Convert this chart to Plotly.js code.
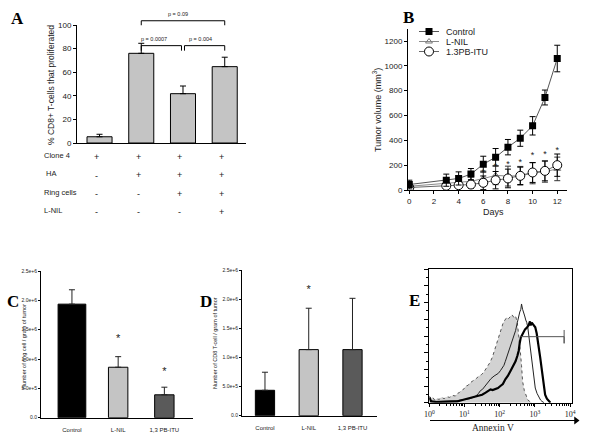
<!DOCTYPE html>
<html><head><meta charset="utf-8">
<script src="https://cdn.plot.ly/plotly-3.0.1.min.js"></script>
<style>html,body{margin:0;padding:0;background:#fff}#chart{width:600px;height:433px}</style>
</head><body><div id="chart"></div>
<script>
// ---------------- Panel A data ----------------
const aGroups = [0, 1, 2, 3];
const aValues = [5.3, 76, 41.8, 64.7];
const aErrors = [2.1, 8.5, 6.5, 8];
const aYTicks = [0, 20, 40, 60, 80, 100];
const aRowLabels = ['Clone 4', 'HA', 'Ring cells', 'L-NIL'];
const aRowSigns = [['+', '+', '+', '+'], ['-', '+', '+', '+'], ['-', '-', '+', '+'], ['-', '-', '-', '+']];
const aCompFrom = [1, 1, 2];
const aCompTo = [3, 2, 3];
const aCompLevel = [103.6, 82.5, 82.5];
const aCompText = ['p = 0.09', 'p = 0.0007', 'p = 0.004'];
const aYTitle = '% CD8+ T-cells that proliferated';

// ---------------- Panel B data ----------------
const bDays = [0, 3, 4, 5, 6, 7, 8, 9, 10, 11, 12];
const bControl = [44, 79, 93, 128, 208, 264, 345, 417, 517, 745, 1059];
const bControlErr = [35, 49, 53, 45, 64, 70, 62, 65, 74, 60, 107];
const bLnil = [30, 55, 62, 70, 92, 118, 112, 115, 135, 148, 170];
const bLnilErr = [15, 25, 30, 35, 60, 75, 80, 75, 85, 85, 95];
const bPb = [20, 34, 39, 44, 58, 79, 93, 114, 141, 154, 200];
const bPbErr = [10, 20, 20, 30, 55, 70, 75, 70, 80, 80, 90];
const bStarDays = [6, 7, 8, 9, 10, 11, 12];
const bStarLevels = [140, 185, 205, 222, 274, 285, 316];
const bSeriesNames = ['Control', 'L-NIL', '1.3PB-ITU'];
const bXTicks = [0, 2, 4, 6, 8, 10, 12];
const bYTicks = [0, 200, 400, 600, 800, 1000, 1200];

// ---------------- Panel C / D data ----------------
const cdGroups = ['Control', 'L-NIL', '1,3 PB-ITU'];
const cValues = [1.935e6, 0.86e6, 0.39e6];
const cErrors = [0.245e6, 0.18e6, 0.13e6];
const cStarGroups = [1, 2];
const cStarLevels = [1.34e6, 0.78e6];
const dValues = [0.436e6, 1.134e6, 1.134e6];
const dErrors = [0.31e6, 0.71e6, 0.88e6];
const dStarGroups = [1];
const dStarLevels = [2.15e6];
const cdYTicks = [0, 5e5, 1e6, 1.5e6, 2e6, 2.5e6];
const cdYTickText = ['0.0', '5.0e+5', '1.0e+6', '1.5e+6', '2.0e+6', '2.5e+6'];
const cdColors = ['#000000', '#c4c4c4', '#5a5a5a'];

// ---------------- Panel E data (x in log10 units, y in % of max) ----------------
const eGreyLog = [0.00,0.05,0.10,0.15,0.20,0.28,0.35,0.42,0.50,0.58,0.66,0.74,0.80,0.85,0.90,0.95,1.00,1.04,1.10,1.16,1.22,1.28,1.35,1.41,1.48,1.55,1.60,1.66,1.72,1.79,1.85,1.90,1.95,2.00,2.05,2.10,2.15,2.20,2.25,2.30,2.35,2.40,2.45,2.50,2.54,2.58,2.62,2.65,2.70,2.75,2.80,2.85,2.92];
const eGreyVal = [5,3,4,2,3,2.5,4,3,4.5,4,5.5,5,7,7.5,9,9.5,11,12.5,13,15,16,17,18.5,20,21,23,25,27,30,34,39,43,47,52,55,60,62,64,63,65,66,64,65,60,52,40,28,16,9,5,2,1,0];
const eThinLog = [0.00,0.10,0.30,0.50,0.66,0.80,0.90,1.04,1.15,1.25,1.32,1.40,1.45,1.51,1.57,1.63,1.69,1.75,1.84,1.90,1.96,2.02,2.08,2.12,2.16,2.21,2.26,2.30,2.35,2.40,2.45,2.50,2.54,2.57,2.60,2.62,2.65,2.68,2.71,2.74,2.77,2.80,2.84,2.87,2.90,2.94,2.97,3.01,3.06,3.11,3.16,3.20,3.26];
const eThinVal = [3,1,1,1,1.5,1.5,2,2.5,3,4,5,7,9,10,12,14,16,18,20,21,22,24,26,28,31,35,39,42,46,50,54,60,66,68,70,74,70,68,65,62,60,56,47,39,31,24,17,11,7,4,2,1,0];
const eThickLog = [0.00,0.05,0.20,0.40,0.66,0.80,0.94,1.08,1.22,1.30,1.41,1.50,1.60,1.67,1.74,1.80,1.88,1.95,2.02,2.09,2.16,2.23,2.31,2.38,2.45,2.50,2.54,2.57,2.60,2.64,2.68,2.72,2.78,2.82,2.86,2.88,2.91,2.94,2.98,3.01,3.05,3.09,3.12,3.15,3.19,3.22,3.26,3.29,3.34,3.39,3.44];
const eThickVal = [4,1,0.5,0.5,0.5,1,2,3,4,4.5,5,6,7.5,9,10,9.5,10,11,12.5,14,17.5,20,24,27,31,35,39,45,49,51,53,55,56.5,58,61,58,60,59,58,56.5,52,46,40,34,26,19,12,6,3,1,0];
const eGateLog = [2.58, 3.83];
const eGateLevel = 49.5;
const eGateCap = [44.5, 54.5];
const eXTickExp = [0, 1, 2, 3, 4];

// ---------------- layout helpers (pixel -> paper) ----------------
const W = 600, H = 433;
const px = v => v / W;
const py = v => 1 - v / H;
const SANS = 'Liberation Sans, Arial, sans-serif';
const SERIF = 'Liberation Serif, Times New Roman, serif';
const INK = '#222';

// panel A geometry
const A_LEFT = 77, A_RIGHT = 246, A_BOTTOM = 143, A_TOP = 25;
const A_XR = [-0.54, 3.51], A_YR = [0, 100];
const aPx = i => A_LEFT + (i - A_XR[0]) / (A_XR[1] - A_XR[0]) * (A_RIGHT - A_LEFT);
const aPy = v => A_BOTTOM - (v - A_YR[0]) / (A_YR[1] - A_YR[0]) * (A_BOTTOM - A_TOP);

const baseAxis = {showgrid: false, zeroline: false, showline: true, linecolor: '#000', linewidth: 1,
  ticks: 'outside', tickcolor: '#000', ticklen: 3, tickwidth: 1, fixedrange: true};

const traces = [];
// Panel A bars
traces.push({type: 'bar', x: aGroups, y: aValues, xaxis: 'x', yaxis: 'y', width: 0.6,
  marker: {color: '#c4c4c4', line: {color: '#000', width: 1}},
  error_y: {type: 'data', symmetric: false, array: aErrors, arrayminus: aValues.map(() => 0), color: '#000', thickness: 1, width: 3}});

// Panel A comparison brackets (pixel overlay)
{
  const xs = [], ys = [];
  for (let k = 0; k < aCompFrom.length; k++) {
    const lvl = aPy(aCompLevel[k]);
    let x0 = aPx(aCompFrom[k]), x1 = aPx(aCompTo[k]);
    if (k === 1) x1 -= 1.5;
    if (k === 2) x0 += 1.5;
    const drop = k === 0 ? 4.5 : 5;
    xs.push(x0, x0, x1, x1, null);
    ys.push(lvl + drop, lvl, lvl, lvl + drop, null);
  }
  traces.push({type: 'scatter', mode: 'lines', x: xs, y: ys, xaxis: 'x6', yaxis: 'y6',
    line: {color: '#000', width: 1}, hoverinfo: 'skip'});
}

// Panel B series
traces.push({type: 'scatter', mode: 'lines+markers', x: bDays, y: bLnil, xaxis: 'x2', yaxis: 'y2', name: bSeriesNames[1],
  line: {color: '#8a8a8a', width: 1}, marker: {symbol: 'triangle-up-open', size: 6, color: '#777', line: {width: 1}},
  error_y: {type: 'data', array: bLnilErr, color: '#333', thickness: 1, width: 3}});
traces.push({type: 'scatter', mode: 'lines+markers', x: bDays, y: bPb, xaxis: 'x2', yaxis: 'y2', name: bSeriesNames[2],
  line: {color: '#666', width: 1}, marker: {symbol: 'circle', size: 9, color: '#fff', line: {color: '#000', width: 1}},
  error_y: {type: 'data', array: bPbErr, color: '#000', thickness: 1, width: 3}});
traces.push({type: 'scatter', mode: 'lines+markers', x: bDays, y: bControl, xaxis: 'x2', yaxis: 'y2', name: bSeriesNames[0],
  line: {color: '#555', width: 1}, marker: {symbol: 'square', size: 7, color: '#000'},
  error_y: {type: 'data', array: bControlErr, color: '#000', thickness: 1, width: 3}});
traces.push({type: 'scatter', mode: 'text', x: bStarDays, y: bStarLevels, xaxis: 'x2', yaxis: 'y2', text: bStarDays.map(() => '*'),
  textfont: {size: 9, color: INK, family: SANS}, cliponaxis: false, hoverinfo: 'skip'});

// Panel B legend samples (pixel overlay)
const legRows = [31.5, 41.5, 51.5];
const legStyles = [
  {line: {color: '#555', width: 1}, marker: {symbol: 'square', size: 7, color: '#000'}},
  {line: {color: '#8a8a8a', width: 1}, marker: {symbol: 'triangle-up-open', size: 6, color: '#777'}},
  {line: {color: '#666', width: 1}, marker: {symbol: 'circle', size: 9, color: '#fff', line: {color: '#000', width: 1}}}
];
legRows.forEach((ry, k) => {
  traces.push({type: 'scatter', mode: 'lines', x: [419, 439], y: [ry, ry], xaxis: 'x6', yaxis: 'y6', line: legStyles[k].line, hoverinfo: 'skip'});
  traces.push({type: 'scatter', mode: 'markers', x: [429], y: [ry], xaxis: 'x6', yaxis: 'y6', marker: legStyles[k].marker, hoverinfo: 'skip'});
});

// Panel C bars
traces.push({type: 'bar', x: [0, 1, 2], y: cValues, xaxis: 'x3', yaxis: 'y3', width: [0.6, 0.42, 0.42],
  marker: {color: cdColors, line: {color: '#000', width: 1}},
  error_y: {type: 'data', symmetric: false, array: cErrors, arrayminus: cValues.map(() => 0), color: '#222', thickness: 1, width: 3}});
traces.push({type: 'scatter', mode: 'text', x: cStarGroups, y: cStarLevels, xaxis: 'x3', yaxis: 'y3', text: cStarGroups.map(() => '*'),
  textfont: {size: 11, color: INK, family: SANS}, cliponaxis: false, hoverinfo: 'skip'});

// Panel D bars
traces.push({type: 'bar', x: [0, 1, 2], y: dValues, xaxis: 'x4', yaxis: 'y4', width: 0.44,
  marker: {color: cdColors, line: {color: '#000', width: 1}},
  error_y: {type: 'data', symmetric: false, array: dErrors, arrayminus: dValues.map(() => 0), color: '#222', thickness: 1, width: 3}});
traces.push({type: 'scatter', mode: 'text', x: dStarGroups, y: dStarLevels, xaxis: 'x4', yaxis: 'y4', text: dStarGroups.map(() => '*'),
  textfont: {size: 11, color: INK, family: SANS}, cliponaxis: false, hoverinfo: 'skip'});

// Panel E histograms
const toLin = a => a.map(v => Math.pow(10, v));
traces.push({type: 'scatter', mode: 'lines', x: toLin(eGreyLog), y: eGreyVal, xaxis: 'x5', yaxis: 'y5', fill: 'tozeroy',
  fillcolor: '#d2d2d2', line: {color: '#555', width: 1, dash: 'dot'}, hoverinfo: 'skip'});
traces.push({type: 'scatter', mode: 'lines', x: toLin(eThinLog), y: eThinVal, xaxis: 'x5', yaxis: 'y5',
  line: {color: '#222', width: 1}, hoverinfo: 'skip'});
traces.push({type: 'scatter', mode: 'lines', x: toLin(eThickLog), y: eThickVal, xaxis: 'x5', yaxis: 'y5',
  line: {color: '#000', width: 2.2}, hoverinfo: 'skip'});
traces.push({type: 'scatter', mode: 'lines', x: toLin([eGateLog[0], eGateLog[1], eGateLog[1], eGateLog[1]]),
  y: [eGateLevel, eGateLevel, eGateCap[0], eGateCap[1]], xaxis: 'x5', yaxis: 'y5',
  line: {color: '#555', width: 1}, hoverinfo: 'skip'});
// Annexin V axis arrow (pixel overlay)
traces.push({type: 'scatter', mode: 'lines', x: [430, 576], y: [420.5, 420.5], xaxis: 'x6', yaxis: 'y6',
  line: {color: '#000', width: 1.2}, hoverinfo: 'skip'});
traces.push({type: 'scatter', mode: 'markers', x: [576], y: [420.5], xaxis: 'x6', yaxis: 'y6',
  marker: {symbol: 'triangle-right', size: 7, color: '#000'}, hoverinfo: 'skip'});

// ---------------- annotations ----------------
const ann = [];
const pixAnn = (x, y, text, opts) => Object.assign({xref: 'x6', yref: 'y6', x: x, y: y, text: text, showarrow: false,
  font: {family: SANS, size: 7, color: INK}}, opts || {});
// panel letters
[['A', 17, 18], ['B', 408, 17], ['C', 13, 301], ['D', 206, 301], ['E', 414, 300]].forEach(l =>
  ann.push(pixAnn(l[1], l[2], '<b>' + l[0] + '</b>', {font: {family: SERIF, size: 17, color: '#000'}})));
// A titles and table
ann.push(pixAnn(51, 85, aYTitle, {textangle: -90, font: {family: SANS, size: 8.5, color: INK}}));
const aRowY = [155, 173.5, 192, 210];
aRowLabels.forEach((lab, r) => {
  ann.push(pixAnn(r === 1 ? 44 : 42, aRowY[r], lab, {xanchor: 'left', font: {family: SANS, size: 7.5, color: INK}}));
  aRowSigns[r].forEach((s, i) => ann.push({xref: 'x', yref: 'y6', x: aGroups[i], y: aRowY[r] + (s === '-' ? 2 : 1.5), xshift: -3,
    text: s, showarrow: false, font: {family: SANS, size: 9, color: INK}}));
});
aCompText.forEach((t, k) => {
  const cx = (aPx(aCompFrom[k]) + aPx(aCompTo[k])) / 2 + (k === 1 ? -8 : (k === 2 ? -3 : -5));
  ann.push(pixAnn(cx, aPy(aCompLevel[k]) - 6.5, t, {font: {family: SANS, size: 5.5, color: INK}}));
});
// B titles and legend text
ann.push(pixAnn(377, 110, 'Tumor volume (mm<sup>3</sup>)', {textangle: -90, font: {family: SANS, size: 9, color: INK}}));
ann.push(pixAnn(493, 212, 'Days', {font: {family: SANS, size: 9, color: INK}}));
bSeriesNames.forEach((n, k) => ann.push(pixAnn(444, legRows[k], n, {xanchor: 'left', font: {family: SANS, size: 9, color: INK}})));
// C / D titles
ann.push(pixAnn(24, 347, 'Number of ring cell / gram of tumor', {textangle: -90, font: {family: SANS, size: 5.5, color: INK}}));
ann.push(pixAnn(215, 343, 'Number of CD8 T-cell / gram of tumor', {textangle: -90, font: {family: SANS, size: 5.5, color: INK}}));
// E label
ann.push(pixAnn(493, 428, 'Annexin V', {font: {family: SERIF, size: 9.5, color: INK}}));

const tickFont = s => ({size: s, family: SANS, color: INK});
const layout = {
  width: W, height: H, margin: {l: 0, r: 0, t: 0, b: 0, pad: 0},
  paper_bgcolor: '#fff', plot_bgcolor: 'rgba(0,0,0,0)', showlegend: false,
  font: {family: SANS, color: INK}, barmode: 'overlay',
  xaxis: Object.assign({}, baseAxis, {domain: [px(A_LEFT), px(A_RIGHT)], range: A_XR, anchor: 'y', ticks: '', showticklabels: false}),
  yaxis: Object.assign({}, baseAxis, {domain: [py(A_BOTTOM), py(A_TOP)], range: A_YR, anchor: 'x', tickmode: 'array', tickvals: aYTicks,
    tickfont: tickFont(8)}),
  xaxis2: Object.assign({}, baseAxis, {domain: [px(408), px(567)], range: [-0.105, 12.79], anchor: 'y2', tickmode: 'array', tickvals: bXTicks,
    tickfont: tickFont(8)}),
  yaxis2: Object.assign({}, baseAxis, {domain: [py(190), py(28.6)], range: [0, 1300], anchor: 'x2', tickmode: 'array', tickvals: bYTicks,
    tickfont: tickFont(8)}),
  xaxis3: Object.assign({}, baseAxis, {domain: [px(41), px(193)], range: [-0.67, 2.62], anchor: 'y3', ticks: '', tickmode: 'array',
    tickvals: [0, 1, 2], ticktext: cdGroups, tickfont: tickFont(6), ticklabelstandoff: 6}),
  yaxis3: Object.assign({}, baseAxis, {domain: [py(417.7), py(271)], range: [0, 2.5e6], anchor: 'x3', tickmode: 'array',
    tickvals: cdYTicks, ticktext: cdYTickText, tickfont: tickFont(5), ticklen: 2}),
  xaxis4: Object.assign({}, baseAxis, {domain: [px(242), px(377)], range: [-0.525, 2.56], anchor: 'y4', ticks: '', tickmode: 'array',
    tickvals: [0, 1, 2], ticktext: cdGroups, tickfont: tickFont(6), ticklabelstandoff: 6}),
  yaxis4: Object.assign({}, baseAxis, {domain: [py(415.7), py(270)], range: [0, 2.5e6], anchor: 'x4', tickmode: 'array',
    tickvals: cdYTicks, ticktext: cdYTickText, tickfont: tickFont(5), ticklen: 2}),
  xaxis5: Object.assign({}, baseAxis, {type: 'log', domain: [px(429.3), px(571.7)], range: [0, 4.045], anchor: 'y5', mirror: true,
    tickmode: 'array', tickvals: eXTickExp.map(e => Math.pow(10, e)), ticktext: eXTickExp.map(e => '10<sup>' + e + '</sup>'),
    tickfont: {size: 8, family: SERIF, color: INK}, ticklen: 3, ticklabelstandoff: 1,
    minor: {ticks: 'outside', ticklen: 2, dtick: 'D1', tickcolor: '#000'}}),
  yaxis5: Object.assign({}, baseAxis, {domain: [py(402.7), py(269.3)], range: [0, 100], anchor: 'x5', mirror: true,
    showticklabels: false, tickmode: 'linear', tick0: 0, dtick: 12.5, ticklen: 4,
    minor: {ticks: 'outside', ticklen: 2, dtick: 6.25, tickcolor: '#000'}}),
  xaxis6: {domain: [0, 1], range: [0, W], anchor: 'y6', visible: false, fixedrange: true},
  yaxis6: {domain: [0, 1], range: [H, 0], anchor: 'x6', visible: false, fixedrange: true},
  annotations: ann
};

Plotly.newPlot('chart', traces, layout, {staticPlot: true, displayModeBar: false});
</script></body></html>
